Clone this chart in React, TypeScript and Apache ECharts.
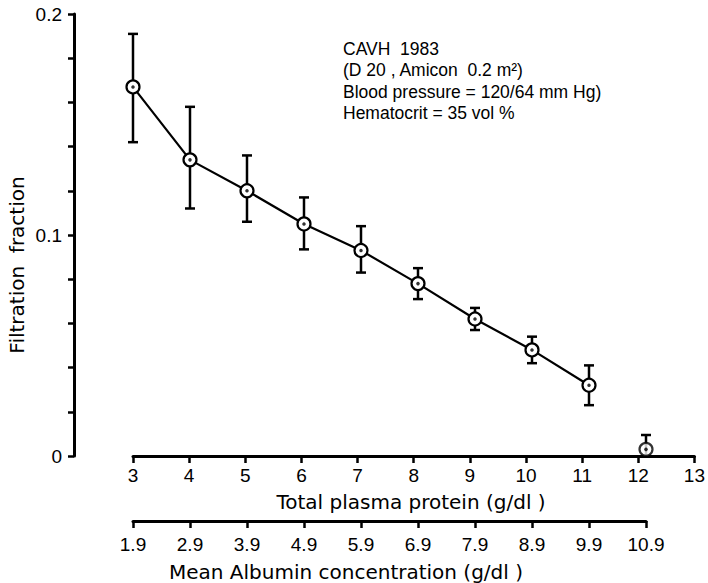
import React, { useEffect, useRef } from 'react';
import * as echarts from 'echarts';

// Total plasma protein (g/dl) of each measured point
const protein = [3, 4, 5, 6, 7, 8, 9, 10, 11, 12];
// Filtration fraction: mean, upper and lower end of the error bar
const meanFF = [0.167, 0.134, 0.12, 0.105, 0.093, 0.078, 0.062, 0.048, 0.032, 0.003];
const upperFF = [0.191, 0.158, 0.136, 0.117, 0.104, 0.085, 0.067, 0.054, 0.041, 0.0095];
const lowerFF = [0.142, 0.112, 0.106, 0.0935, 0.083, 0.071, 0.057, 0.042, 0.023, 0.0];
// points joined by the line (the last one stands alone)
const joinedCount = 9;

const proteinTicks = ['3', '4', '5', '6', '7', '8', '9', '10', '11', '12', '13'];
const albuminTicks = ['1.9', '2.9', '3.9', '4.9', '5.9', '6.9', '7.9', '8.9', '9.9', '10.9'];
const yTickLabels = ['0', '0.1', '0.2'];

const annotationLines = [
  'CAVH  1983',
  '(D 20 , Amicon  0.2 m²)',
  'Blood pressure = 120/64 mm Hg)',
  'Hematocrit = 35 vol %',
];

const FONT = '"Liberation Sans", Arial, sans-serif';
const TITLE_FONT = '"DejaVu Sans", sans-serif';

export default function App() {
  const ref = useRef<HTMLDivElement>(null);

  useEffect(() => {
    if (!ref.current) return;
    const chart = echarts.init(ref.current, undefined, { renderer: 'svg' });

    const pts = protein.map((x, i) => [x, meanFF[i]]);
    const axisLine = { show: true, lineStyle: { color: '#000', width: 3 } };
    const axisTick = { show: true, inside: false, length: 7, lineStyle: { color: '#000', width: 2.5 } };

    const option: any = {
      animation: false,
      backgroundColor: '#fff',
      grid: [
        { left: 74, right: 5, top: 14, height: 442 },
        { left: 133, right: 5, top: 455, height: 1 },
        { left: 133, width: 513, top: 520, height: 1 },
      ],
      xAxis: [
        { gridIndex: 0, type: 'value', min: 1.965, max: 13, show: false },
        {
          gridIndex: 1,
          type: 'category',
          data: proteinTicks,
          boundaryGap: false,
          axisLine,
          axisTick: { ...axisTick, interval: 0 },
          axisLabel: { interval: 0, color: '#000', fontSize: 19, fontFamily: FONT, margin: 10 },
          splitLine: { show: false },
        },
        {
          gridIndex: 2,
          type: 'category',
          data: albuminTicks,
          boundaryGap: false,
          axisLine,
          axisTick: { ...axisTick, interval: 0 },
          axisLabel: { interval: 0, color: '#000', fontSize: 19, fontFamily: FONT, margin: 14 },
          splitLine: { show: false },
        },
      ],
      yAxis: [
        {
          gridIndex: 0,
          type: 'value',
          min: 0,
          max: 0.2,
          interval: 0.02,
          axisLine,
          axisTick: { show: true, inside: false, length: 6, lineStyle: { color: '#000', width: 2.5 } },
          splitLine: { show: false },
          axisLabel: {
            color: '#000',
            fontSize: 19,
            fontFamily: FONT,
            margin: 12,
            formatter: (v: number) => {
              const k = Math.round(v / 0.1);
              return Math.abs(v - k * 0.1) < 1e-9 ? yTickLabels[k] : '';
            },
          },
        },
        { gridIndex: 1, type: 'value', show: false },
        { gridIndex: 2, type: 'value', show: false },
      ],
      series: [
        {
          type: 'custom',
          xAxisIndex: 0,
          yAxisIndex: 0,
          clip: false,
          z: 1,
          data: protein.map((x, i) => [x, lowerFF[i], upperFF[i]]),
          renderItem: (params: any, api: any) => {
            const x = api.value(0);
            const lo = api.coord([x, api.value(1)]);
            const hi = api.coord([x, api.value(2)]);
            const hw = 5;
            const style = { stroke: '#000', lineWidth: 2.5 };
            return {
              type: 'group',
              children: [
                { type: 'line', shape: { x1: lo[0], y1: lo[1], x2: hi[0], y2: hi[1] }, style },
                { type: 'line', shape: { x1: lo[0] - hw, y1: lo[1], x2: lo[0] + hw, y2: lo[1] }, style },
                { type: 'line', shape: { x1: hi[0] - hw, y1: hi[1], x2: hi[0] + hw, y2: hi[1] }, style },
              ],
            };
          },
        },
        {
          type: 'line',
          xAxisIndex: 0,
          yAxisIndex: 0,
          z: 3,
          data: pts.slice(0, joinedCount),
          symbol: 'circle',
          symbolSize: 13,
          lineStyle: { color: '#000', width: 2.2 },
          itemStyle: { color: '#fff', borderColor: '#000', borderWidth: 2.2 },
        },
        {
          type: 'scatter',
          xAxisIndex: 0,
          yAxisIndex: 0,
          z: 3,
          data: pts.slice(joinedCount),
          symbol: 'circle',
          symbolSize: 13,
          itemStyle: { color: '#fff', borderColor: '#000', borderWidth: 2.2 },
        },
        {
          type: 'scatter',
          xAxisIndex: 0,
          yAxisIndex: 0,
          z: 4,
          data: pts,
          symbol: 'circle',
          symbolSize: 3.5,
          itemStyle: { color: '#000' },
        },
      ],
      graphic: [
        {
          type: 'text',
          x: 17,
          y: 265,
          rotation: Math.PI / 2,
          style: {
            text: 'Filtration  fraction',
            fill: '#000',
            font: `20px ${TITLE_FONT}`,
            align: 'center',
            verticalAlign: 'middle',
          },
        },
        {
          type: 'text',
          x: 411,
          y: 502,
          style: {
            text: 'Total plasma protein (g/dl )',
            fill: '#000',
            font: `20px ${TITLE_FONT}`,
            align: 'center',
            verticalAlign: 'middle',
          },
        },
        {
          type: 'text',
          x: 346,
          y: 572,
          style: {
            text: 'Mean Albumin concentration (g/dl )',
            fill: '#000',
            font: `20px ${TITLE_FONT}`,
            align: 'center',
            verticalAlign: 'middle',
          },
        },
        {
          type: 'text',
          x: 343,
          y: 38,
          style: {
            text: annotationLines.join('\n'),
            fill: '#000',
            font: `17.5px ${FONT}`,
            lineHeight: 21.5,
            align: 'left',
            verticalAlign: 'top',
          },
        },
      ],
    };

    chart.setOption(option);
    return () => chart.dispose();
  }, []);

  return (
    <div
      ref={ref}
      style={{ position: 'fixed', left: 0, top: 0, width: 708, height: 583, background: '#fff' }}
    />
  );
}
